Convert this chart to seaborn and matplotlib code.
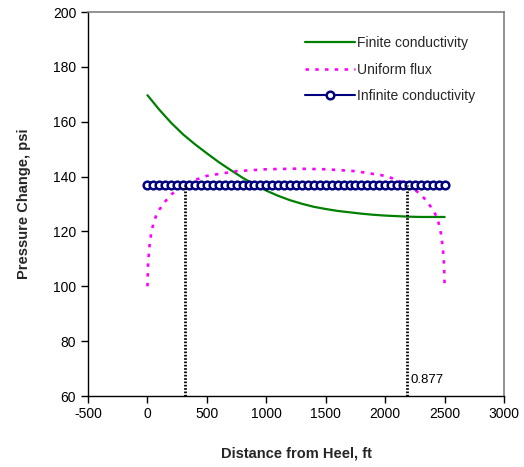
import numpy as np
import pandas as pd
import matplotlib
matplotlib.use("Agg")
import matplotlib.pyplot as plt
import seaborn as sns

# ---- data ----
finite_x = [0, 100, 200, 300, 400, 500, 600, 700, 800, 900, 1000, 1100, 1200, 1300,
            1400, 1500, 1600, 1700, 1800, 1900, 2000, 2100, 2200, 2300, 2400, 2500]
finite_y = [169.7, 164.4, 159.6, 155.4, 151.8, 148.5, 145.3, 142.4, 139.6, 137.1, 134.9,
            133.0, 131.4, 130.1, 129.0, 128.2, 127.5, 127.0, 126.5, 126.1, 125.8, 125.6,
            125.4, 125.3, 125.3, 125.3]

uniform_x = [0, 5, 15, 30, 50, 75, 100, 150, 200, 300, 400, 500, 750, 1000, 1250,
             1500, 1750, 2000, 2100, 2200, 2300, 2350, 2400, 2425, 2450, 2470, 2485, 2495, 2500]
uniform_y = [100, 108, 114, 119, 123, 126, 128, 131, 133.5, 136.8, 138.8, 140.3, 142.0, 142.7, 142.9,
             142.7, 142.0, 140.3, 138.8, 136.8, 133.5, 131, 128, 126, 123, 119, 114, 108, 100]

infinite_x = list(range(0, 2501, 50))
infinite_y = [137.0] * len(infinite_x)

vline_x = [315, 2187]
vline_top = 137.0
annot_text = "0.877"

xticks = [-500, 0, 500, 1000, 1500, 2000, 2500, 3000]
yticks = [60, 80, 100, 120, 140, 160, 180, 200]

# ---- plot ----
sns.set_style("white")
plt.rcParams['font.family'] = ['Liberation Sans', 'DejaVu Sans']

fig = plt.figure(figsize=(5.24, 4.67), dpi=100)
ax = fig.add_axes([0.168, 0.152, 0.794, 0.822])

df_f = pd.DataFrame({"x": finite_x, "y": finite_y})
df_u = pd.DataFrame({"x": uniform_x, "y": uniform_y})
df_i = pd.DataFrame({"x": infinite_x, "y": infinite_y})

sns.lineplot(data=df_f, x="x", y="y", ax=ax, color="#008000", linewidth=1.6,
             label="Finite conductivity", sort=False)
sns.lineplot(data=df_u, x="x", y="y", ax=ax, color="#FF00FF", linewidth=1.9,
             linestyle=(0, (1.3, 2.4)), label="Uniform flux", sort=False)
sns.lineplot(data=df_i, x="x", y="y", ax=ax, color="#000080", linewidth=1.5,
             marker="o", markersize=5.5, markerfacecolor="white",
             markeredgecolor="#000080", markeredgewidth=1.8,
             label="Infinite conductivity", sort=False)

for vx in vline_x:
    ax.plot([vx, vx], [60, vline_top], color="black", linewidth=2.0,
            linestyle=(0, (0.6, 0.6)))

ax.text(2210, 63.5, annot_text, fontsize=9.5, color="black", ha="left", va="bottom")

ax.set_xlim(-500, 3000)
ax.set_ylim(60, 200)
ax.set_xticks(xticks)
ax.set_yticks(yticks)
ax.set_xticklabels([str(t) for t in xticks])
ax.set_yticklabels([str(t) for t in yticks])
ax.tick_params(axis="both", direction="out", length=5, width=1, labelsize=10,
               colors="black", bottom=True, left=True)
ax.tick_params(axis="x", pad=3)

for s in ["top", "right"]:
    ax.spines[s].set_color("#808080")
    ax.spines[s].set_linewidth(1.2)
for s in ["left", "bottom"]:
    ax.spines[s].set_color("black")
    ax.spines[s].set_linewidth(1.0)

ax.set_xlabel("Distance from Heel, ft", fontsize=10.5, fontweight="bold", labelpad=18)
ax.set_ylabel("Pressure Change, psi", fontsize=10.5, fontweight="bold", labelpad=16)

leg = ax.legend(loc="upper right", bbox_to_anchor=(0.96, 0.97), frameon=False,
                fontsize=10, handlelength=3.6, handletextpad=0.15, labelspacing=0.9)

fig.savefig("out.png", dpi=100)
